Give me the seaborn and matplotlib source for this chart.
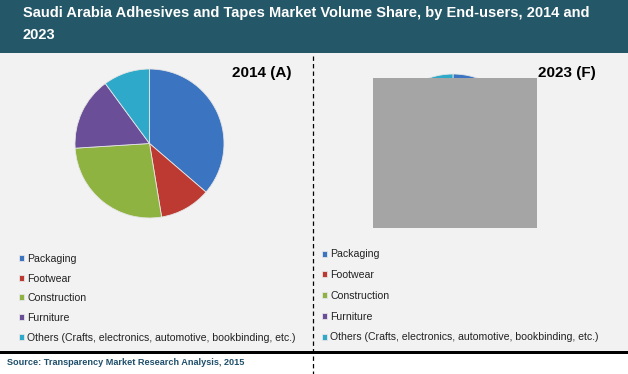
import matplotlib
matplotlib.use("Agg")
import matplotlib.pyplot as plt
import seaborn as sns
from matplotlib.patches import Rectangle
from matplotlib.lines import Line2D

# -----------------------
# Data
# -----------------------
segments = ["Packaging", "Footwear", "Construction", "Furniture",
            "Others (Crafts, electronics, automotive, bookbinding, etc.)"]
share_2014 = [36.3, 11.1, 26.6, 15.9, 10.1]
share_2023 = [37.0, 10.5, 27.0, 15.8, 9.7]   # hidden in the reference, estimated
pie_titles = ["2014 (A)", "2023 (F)"]

colors = ["#3b74c0", "#bd3a33", "#8fb340", "#6a4e98", "#2fa9c9"]

sns.set_theme(style="white")
plt.rcParams["font.family"] = ["Liberation Sans", "DejaVu Sans"]

W, H = 628, 374
fig = plt.figure(figsize=(W / 100, H / 100), dpi=100)
fig.patch.set_facecolor("white")


def px_rect(x0, y0, x1, y1, color, z=-1):
    # rectangle in pixel coords measured from the top-left corner
    fig.patches.append(Rectangle((x0 / W, 1 - y1 / H), (x1 - x0) / W, (y1 - y0) / H,
                                 transform=fig.transFigure, facecolor=color,
                                 edgecolor="none", zorder=z))


# -----------------------
# Background panels
# -----------------------
px_rect(0, 0, W, 53.3, "#245868")
px_rect(0, 53.3, W, 351, "#f2f2f2")
px_rect(0, 351, W, 354, "black")

fig.text(22.7 / W, 1 - 12.7 / H,
         "Saudi Arabia Adhesives and Tapes Market Volume Share, by End-users, 2014 and",
         color="white", fontsize=10.5, fontweight="bold", va="center", ha="left")
fig.text(22.7 / W, 1 - 35 / H, "2023", color="white", fontsize=10.5,
         fontweight="bold", va="center", ha="left")

fig.text(7 / W, 1 - 362.5 / H, "Source: Transparency Market Research Analysis, 2015",
         color="#1f4f6b", fontsize=6.6, fontweight="bold", va="center", ha="left")

# dashed divider
fig.lines.append(Line2D([312.5 / W, 312.5 / W], [1 - 56 / H, 0], transform=fig.transFigure,
                        color="black", linewidth=0.9, linestyle=(0, (3.5, 2.5)), zorder=3))

# -----------------------
# Pies
# -----------------------
pies = [
    # values, center x, center y, radius, title x, title y, legend x, legend top, spacing
    (share_2014, 149.5, 143.5, 74.5, 232, 72.7, 19, 253.8, 0.92),
    (share_2023, 453.0, 148.0, 74.0, 537.5, 73.3, 322, 249.3, 1.02),
]

for (vals, cx, cy, r, tx, ty, lx, ly, spacing), title in zip(pies, pie_titles):
    ax = fig.add_axes([(cx - r) / W, 1 - (cy + r) / H, 2 * r / W, 2 * r / H])
    wedges, _ = ax.pie(vals, colors=colors, startangle=90, counterclock=False,
                       wedgeprops=dict(edgecolor="#e6e6e6", linewidth=0.6))
    ax.set_xlim(-1, 1)
    ax.set_ylim(-1, 1)
    ax.set_aspect("equal")
    ax.axis("off")

    fig.text(tx / W, 1 - ty / H, title, fontsize=11, fontweight="bold",
             va="center", ha="left", color="black")

    fig.legend(wedges, segments, loc="upper left", bbox_to_anchor=(lx / W, 1 - ly / H),
               frameon=False, fontsize=7.6, handlelength=0.5, handleheight=0.5,
               handletextpad=0.3, labelspacing=spacing, borderpad=0, borderaxespad=0,
               labelcolor="#222222")

# grey box that covers the 2023 pie in the source image
px_rect(372.7, 78, 537, 227.7, "#a5a5a5", z=5)

fig.savefig("out.png", dpi=100, facecolor=fig.get_facecolor())
